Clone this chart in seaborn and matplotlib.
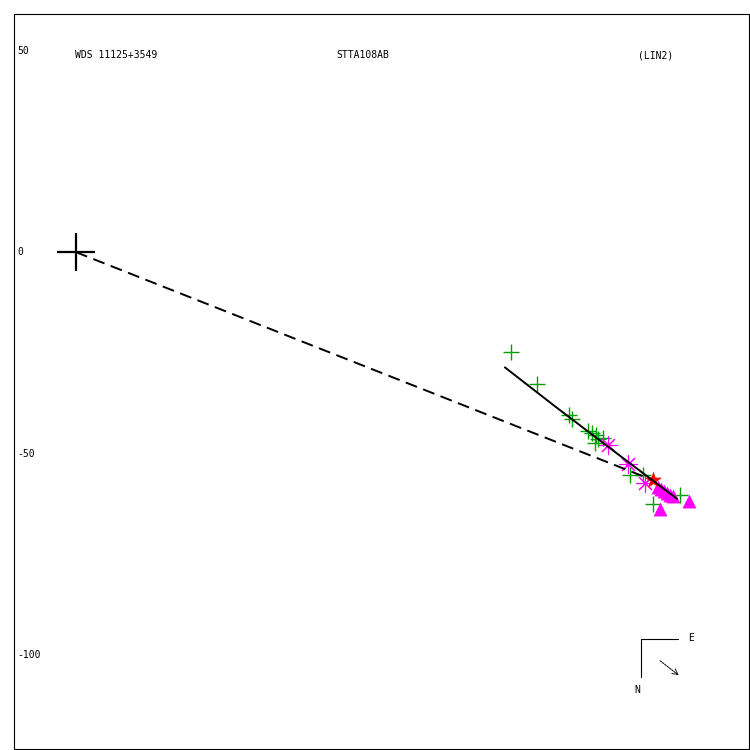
import matplotlib
matplotlib.use("Agg")
import matplotlib.pyplot as plt
import seaborn as sns
import pandas as pd

# relative positions of the companion (same units on both axes)
obs_x = [108.2, 114.7, 122.6, 123.4, 127.4, 128.4, 129.4, 129.9, 129.1, 131.1, 137.8, 141.0, 143.5, 150.2]
obs_y = [-24.9, -32.6, -40.5, -41.3, -44.3, -44.8, -45.3, -46.3, -47.3, -46.0, -55.2, -55.2, -62.4, -60.2]

star_x = [132.3, 137.3, 141.5]
star_y = [-47.8, -52.5, -57.2]

red_x = [143.5]
red_y = [-56.5]

tri_x = [145.3, 152.5, 144.8, 145.5, 146.3, 147.0, 147.8, 148.5]
tri_y = [-63.7, -61.7, -58.2, -58.7, -59.2, -59.7, -60.2, -60.4]

orbit_x = [106.7, 119.2, 136.6, 149.5]
orbit_y = [-28.6, -38.3, -51.5, -61.2]

node_x = [0.0, 143.3]
node_y = [0.0, -56.5]

yticks = [50, 0, -50, -100]
title_left = "WDS 11125+3549"
title_mid = "STTA108AB"
title_right = "(LIN2)"

sns.set_style("white")
mono = "DejaVu Sans Mono"
txt = dict(fontsize=7, family=mono, color="black")

fig = plt.figure(figsize=(7.5, 7.5), dpi=100)
ax = fig.add_axes([14/750, 1/750, 735/750, 735/750])

# dashed line primary -> companion
ax.plot(node_x, node_y, color="black", lw=1.4, dashes=(6.2, 3.4))

orbit = pd.DataFrame({"x": orbit_x, "y": orbit_y})
sns.lineplot(data=orbit, x="x", y="y", sort=False, color="black", lw=1.4, ax=ax)

sns.scatterplot(x=obs_x, y=obs_y, marker="+", s=140, color="#00a000", linewidth=1.0, ax=ax)
sns.scatterplot(x=star_x, y=star_y, marker=(8, 2, 0), s=160, color="#ff00ff", linewidth=0.8, ax=ax)
sns.scatterplot(x=tri_x, y=tri_y, marker="^", s=100, color="#ff00ff", linewidth=0, ax=ax)
sns.scatterplot(x=red_x, y=red_y, marker="*", s=170, color="#ff0000", linewidth=0, ax=ax)

# primary star
ax.plot([0], [0], marker="+", ms=27, mew=1.6, color="black", ls="none")

ax.set_xlim(-15.4, 167.4)
ax.set_ylim(-123.3, 59.1)
ax.set_xticks([])
ax.set_yticks([])
ax.set_xlabel("")
ax.set_ylabel("")
for sp in ax.spines.values():
    sp.set_visible(True)
    sp.set_color("black")
    sp.set_linewidth(0.8)

# y tick labels inside the frame
trans = ax.get_yaxis_transform()
for v in yticks:
    ax.text(0.004, v, str(v), transform=trans, ha="left", va="center", **txt)

ax.text(0.083, 0.944, title_left, transform=ax.transAxes, ha="left", va="center", **txt)
ax.text(0.438, 0.944, title_mid, transform=ax.transAxes, ha="left", va="center", **txt)
ax.text(0.849, 0.944, title_right, transform=ax.transAxes, ha="left", va="center", **txt)

# orientation sign
ax.plot([0.853, 0.9034], [0.1497, 0.1497], color="black", lw=0.8, transform=ax.transAxes)
ax.plot([0.853, 0.853], [0.1497, 0.098], color="black", lw=0.8, transform=ax.transAxes)
ax.text(0.917, 0.151, "E", transform=ax.transAxes, ha="left", va="center", **txt)
ax.text(0.8476, 0.0803, "N", transform=ax.transAxes, ha="center", va="center", **txt)
ax.annotate("", xy=(0.9075, 0.098), xytext=(0.876, 0.1224),
            xycoords="axes fraction", textcoords="axes fraction",
            arrowprops=dict(arrowstyle="->", color="black", lw=0.7, ls=(0, (2, 1))))

fig.savefig("out.png", dpi=100)
